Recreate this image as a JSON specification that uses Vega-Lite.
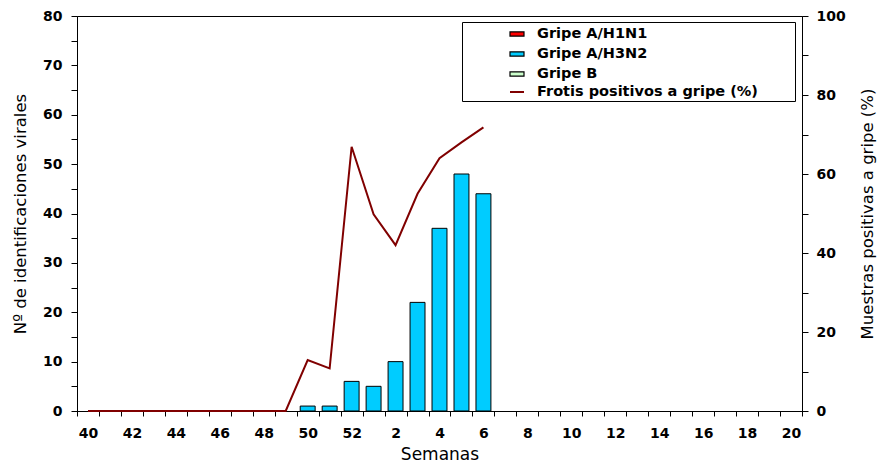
{
  "$schema": "https://vega.github.io/schema/vega-lite/v6.json",
  "width": 725,
  "height": 395,
  "autosize": {"type": "none"},
  "padding": {"left": 77, "top": 16, "right": 78, "bottom": 56},
  "background": "white",
  "config": {
    "view": {"stroke": "black", "strokeWidth": 1},
    "font": "DejaVu Sans",
    "axis": {
      "grid": false,
      "domainColor": "black",
      "tickColor": "black",
      "labelColor": "black",
      "titleColor": "black",
      "labelFont": "DejaVu Sans",
      "titleFont": "DejaVu Sans",
      "labelFontWeight": "bold",
      "labelFontSize": 14,
      "titleFontWeight": "normal",
      "titleFontSize": 16.5
    },
    "legend": {
      "orient": "none",
      "legendX": 385,
      "padding": 4,
      "rowPadding": 5,
      "symbolSize": 196,
      "symbolOffset": 43,
      "labelOffset": 12,
      "labelFont": "DejaVu Sans",
      "labelFontWeight": "bold",
      "labelFontSize": 14.5,
      "labelColor": "black",
      "labelLimit": 600
    }
  },
  "data": {
    "values": [
      {"semana": "40", "h3n2": 0, "pct": 0},
      {"semana": "41", "h3n2": 0, "pct": 0},
      {"semana": "42", "h3n2": 0, "pct": 0},
      {"semana": "43", "h3n2": 0, "pct": 0},
      {"semana": "44", "h3n2": 0, "pct": 0},
      {"semana": "45", "h3n2": 0, "pct": 0},
      {"semana": "46", "h3n2": 0, "pct": 0},
      {"semana": "47", "h3n2": 0, "pct": 0},
      {"semana": "48", "h3n2": 0, "pct": 0},
      {"semana": "49", "h3n2": 0, "pct": 0},
      {"semana": "50", "h3n2": 1, "pct": 12.9},
      {"semana": "51", "h3n2": 1, "pct": 10.8},
      {"semana": "52", "h3n2": 6, "pct": 66.9},
      {"semana": "1", "h3n2": 5, "pct": 49.8},
      {"semana": "2", "h3n2": 10, "pct": 42},
      {"semana": "3", "h3n2": 22, "pct": 55},
      {"semana": "4", "h3n2": 37, "pct": 64},
      {"semana": "5", "h3n2": 48, "pct": 68},
      {"semana": "6", "h3n2": 44, "pct": 71.8}
    ]
  },
  "layer": [
    {
      "transform": [{"filter": "datum.h3n2 > 0"}],
      "mark": {"type": "bar", "width": {"band": 0.68}, "stroke": "black", "strokeWidth": 1},
      "encoding": {
        "x": {
          "field": "semana",
          "type": "ordinal",
          "scale": {
            "domain": ["40","41","42","43","44","45","46","47","48","49","50","51","52","1","2","3","4","5","6","7","8","9","10","11","12","13","14","15","16","17","18","19","20"],
            "paddingInner": 0,
            "paddingOuter": 0
          },
          "axis": {
            "title": "Semanas",
            "titleFontSize": 17,
            "labelAngle": 0,
            "tickBand": "extent",
            "tickSize": 5,
            "labelPadding": 10,
            "titlePadding": 6,
            "labelExpr": "(+datum.value) % 2 == 0 ? datum.label : ''"
          }
        },
        "y": {
          "field": "h3n2",
          "type": "quantitative",
          "scale": {"domain": [0, 80], "nice": false},
          "axis": {
            "title": "Nº de identificaciones virales",
            "values": [0,5,10,15,20,25,30,35,40,45,50,55,60,65,70,75,80],
            "labelExpr": "datum.value % 10 == 0 ? datum.label : ''",
            "tickSize": 6,
            "labelPadding": 9,
            "titlePadding": 14
          }
        },
        "fill": {
          "datum": "Gripe A/H3N2",
          "type": "nominal",
          "scale": {
            "domain": ["Gripe A/H1N1", "Gripe A/H3N2", "Gripe B"],
            "range": ["#ff0000", "#00ccff", "#ccffcc"]
          },
          "legend": {
            "title": "___________________________________________________________",
            "titleOrient": "bottom",
            "titleFontSize": 11,
            "titleFontWeight": "normal",
            "titleColor": "white",
            "titleLimit": 500,
            "titlePadding": 5,
            "legendY": 6,
            "strokeColor": "black",
            "fillColor": "white",
            "symbolType": "M-1,-0.3H1V0.3H-1Z",
            "symbolStrokeColor": "black",
            "symbolStrokeWidth": 1.2,
            "symbolOpacity": 1
          }
        }
      }
    },
    {
      "transform": [{"filter": "isValid(datum.pct)"}],
      "mark": {"type": "line", "strokeWidth": 2},
      "encoding": {
        "x": {"field": "semana", "type": "ordinal"},
        "y": {
          "field": "pct",
          "type": "quantitative",
          "scale": {"domain": [0, 100], "nice": false},
          "axis": {
            "orient": "right",
            "title": "Muestras positivas a gripe (%)",
            "titleAngle": 270,
            "values": [0,10,20,30,40,50,60,70,80,90,100],
            "labelExpr": "datum.value % 20 == 0 ? datum.label : ''",
            "tickSize": 6,
            "labelPadding": 8,
            "titlePadding": 30
          }
        },
        "stroke": {
          "datum": "Frotis positivos a gripe (%)",
          "type": "nominal",
          "scale": {"domain": ["Frotis positivos a gripe (%)"], "range": ["#800000"]},
          "legend": {
            "title": null,
            "legendY": 64,
            "symbolType": "M-1,0H1",
            "symbolStrokeWidth": 2
          }
        }
      }
    }
  ],
  "resolve": {"scale": {"y": "independent"}}
}
